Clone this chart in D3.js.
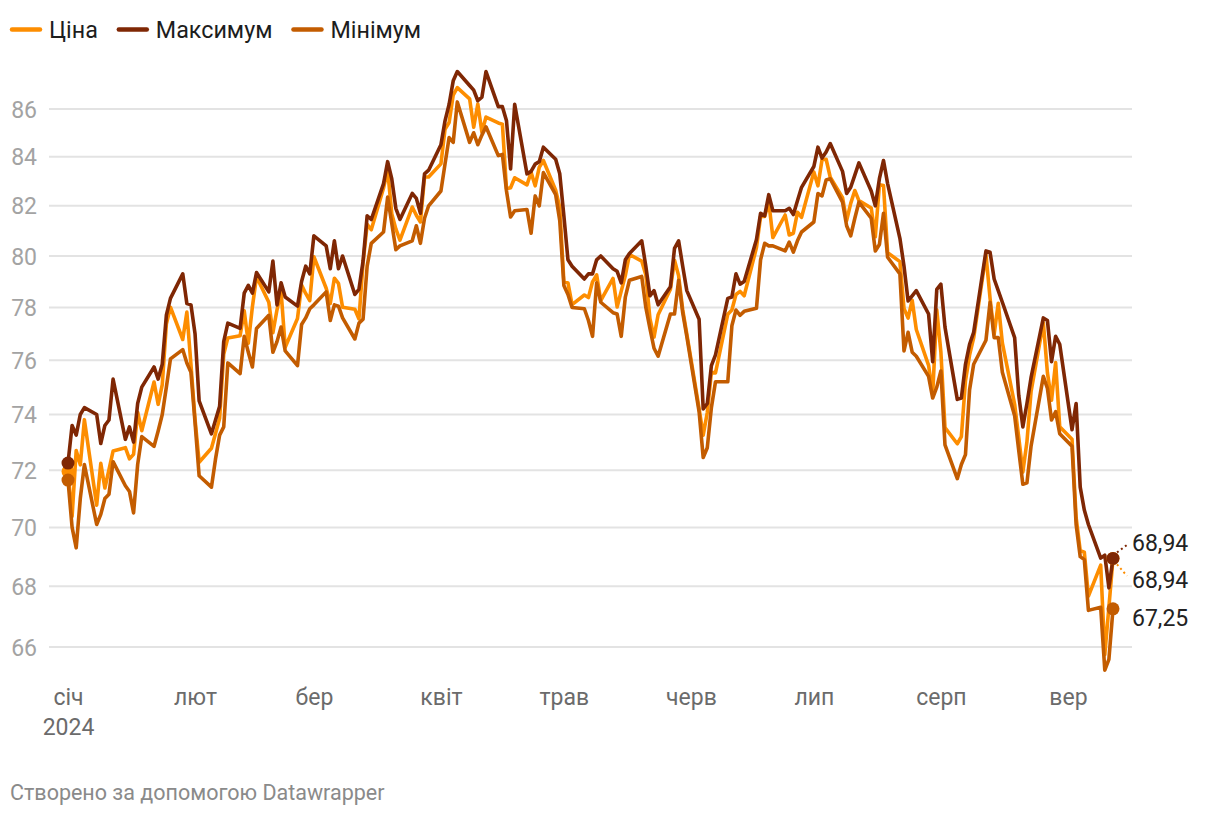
<!DOCTYPE html>
<html>
<head>
<meta charset="utf-8">
<script src="https://cdn.jsdelivr.net/npm/d3@7"></script>
<style>
  body { margin: 0; background: #fff; }
  svg { display: block; font-family: Roboto, "Noto Sans", sans-serif; }
</style>
</head>
<body>
<svg id="chart" width="1220" height="816"></svg>
<script>
// ---------- data ----------
const seriesNames = ["Ціна", "Максимум", "Мінімум"];
const monthLabels = ["січ", "лют", "бер", "квіт", "трав", "черв", "лип", "серп", "вер"];
const yearLabel = "2024";
const yTicks = [66, 68, 70, 72, 74, 76, 78, 80, 82, 84, 86];
const footerText = "Створено за допомогою Datawrapper";

const dates = [
  "01-01","01-02","01-03","01-04","01-05","01-08","01-09","01-10","01-11","01-12","01-15","01-16","01-17","01-18","01-19","01-22","01-23","01-24","01-25","01-26","01-29","01-30","01-31",
  "02-01","02-02","02-05","02-06","02-07","02-08","02-09","02-12","02-13","02-14","02-15","02-16","02-19","02-20","02-21","02-22","02-23","02-26","02-27","02-28","02-29",
  "03-01","03-04","03-05","03-06","03-07","03-08","03-11","03-12","03-13","03-14","03-15","03-18","03-19","03-20","03-21","03-22","03-25","03-26","03-27","03-28","03-29",
  "04-01","04-02","04-03","04-04","04-05","04-08","04-09","04-10","04-11","04-12","04-15","04-16","04-17","04-18","04-19","04-22","04-23","04-24","04-25","04-26","04-29","04-30",
  "05-01","05-02","05-03","05-06","05-07","05-08","05-09","05-10","05-13","05-14","05-15","05-16","05-17","05-20","05-21","05-22","05-23","05-24","05-27","05-28","05-29","05-30","05-31",
  "06-03","06-04","06-05","06-06","06-07","06-10","06-11","06-12","06-13","06-14","06-17","06-18","06-19","06-20","06-21","06-24","06-25","06-26","06-27","06-28",
  "07-01","07-02","07-03","07-04","07-05","07-08","07-09","07-10","07-11","07-12","07-15","07-16","07-17","07-18","07-19","07-22","07-23","07-24","07-25","07-26","07-29","07-30","07-31",
  "08-01","08-02","08-05","08-06","08-07","08-08","08-09","08-12","08-13","08-14","08-15","08-16","08-19","08-20","08-21","08-22","08-23","08-26","08-27","08-28","08-29","08-30",
  "09-02","09-03","09-04","09-05","09-06","09-09","09-10","09-11","09-12"
];

const price = [
  71.95,70.38,72.70,72.19,73.81,70.77,72.24,71.37,72.02,72.68,72.8,72.40,72.56,74.08,73.41,75.19,74.37,75.09,77.36,78.01,76.78,77.82,75.85,
  73.82,72.28,72.78,73.31,73.86,76.22,76.84,76.92,77.87,76.64,78.03,79.19,78.2,77.04,77.91,78.61,76.49,77.58,78.87,78.54,78.26,
  79.97,78.74,78.15,79.13,78.93,78.01,77.93,77.56,79.72,81.26,81.04,82.72,83.47,81.68,81.07,80.63,81.95,81.62,81.35,83.17,83.17,
  83.71,85.15,85.43,86.59,86.91,86.43,85.23,86.21,85.02,85.66,85.41,85.36,82.69,82.73,83.14,82.85,83.36,82.81,83.57,83.85,82.63,81.93,
  79.00,78.95,78.11,78.48,78.38,78.99,79.26,78.26,79.12,78.02,78.63,79.23,80.06,79.80,79.26,77.57,76.87,77.72,78.7,79.83,79.23,77.91,76.99,
  74.22,73.25,74.07,75.55,75.53,77.74,77.90,78.50,78.62,78.45,80.33,81.57,81.57,82.17,80.73,81.63,80.83,80.90,81.74,81.54,
  83.38,82.81,83.88,83.9,83.16,82.33,81.41,82.10,82.62,82.21,81.91,80.76,82.85,82.82,80.13,79.78,77.96,77.59,78.28,77.16,75.81,74.73,77.91,
  76.31,73.52,72.94,73.20,75.23,76.19,76.84,80.06,78.35,76.98,78.16,76.65,74.37,73.17,71.93,73.01,74.83,77.42,75.53,74.52,75.91,73.55,
  73.1,70.34,69.20,69.15,67.67,68.71,65.75,67.31,68.94
];

const high = [
  72.25,73.6,73.25,74.0,74.25,74.0,72.95,73.6,73.8,75.3,73.1,73.55,73.0,74.4,75.0,75.75,75.3,75.85,77.7,78.35,79.3,78.15,78.1,
  77.0,74.5,73.3,73.8,74.3,76.7,77.4,77.2,78.55,78.85,78.55,79.35,78.6,79.8,78.1,78.95,78.4,78.05,79.0,79.6,79.3,
  80.8,80.4,79.5,80.6,79.5,80.0,78.5,78.7,79.8,81.6,81.45,82.9,83.8,83.1,81.9,81.45,82.5,82.3,81.7,83.3,83.45,
  84.5,85.5,86.2,87.2,87.6,87.0,86.8,86.35,86.5,87.6,86.1,86.1,85.5,83.5,86.2,83.3,83.4,83.7,83.8,84.4,83.9,83.3,
  81.6,79.85,79.6,79.1,79.3,79.3,79.85,80.0,79.5,79.4,78.95,79.85,80.1,80.6,79.6,78.45,78.65,78.1,78.8,80.3,80.6,79.6,78.65,
  77.55,74.2,74.4,75.8,76.2,78.35,78.4,79.3,78.9,79.0,80.65,81.7,81.6,82.45,81.8,81.8,81.9,81.65,82.2,82.75,
  83.6,84.4,83.95,84.2,84.55,83.4,82.5,82.75,83.25,83.75,82.6,82.0,83.1,83.85,82.9,80.7,79.6,78.25,78.45,78.65,77.75,75.95,78.7,
  78.9,77.25,74.55,74.6,75.85,76.6,77.05,80.2,80.15,79.1,78.65,78.2,76.85,74.7,73.55,74.4,75.35,77.6,77.5,75.95,76.9,76.6,
  73.45,74.4,71.4,70.6,70.1,68.95,69.05,67.95,68.94
];

const low = [
  71.65,70.0,69.3,71.0,72.2,70.1,70.45,71.0,71.15,72.3,71.45,71.25,70.5,72.2,73.2,72.85,73.4,74.0,75.0,76.05,76.4,75.9,75.55,
  73.7,71.8,71.4,72.4,73.25,73.55,75.9,75.5,76.9,76.3,75.75,77.2,77.7,76.3,76.7,77.25,76.35,75.8,77.35,77.6,77.95,
  78.1,78.6,77.5,78.1,78.05,77.6,76.8,77.4,77.55,79.6,80.5,80.95,82.35,81.3,80.25,80.4,80.6,81.2,80.5,81.5,82.0,
  82.6,83.7,84.8,84.6,86.3,84.6,85.0,84.5,84.9,85.25,84.05,84.1,82.6,81.55,81.8,81.85,80.9,82.4,82.0,83.35,82.45,81.4,
  78.85,78.5,78.0,77.95,77.5,76.9,78.95,78.2,77.8,77.75,76.9,78.4,79.05,79.2,78.0,77.2,76.45,76.15,77.75,77.75,79.05,77.8,76.9,
  74.1,72.45,72.8,74.25,75.2,75.2,77.3,77.9,77.7,77.85,77.97,79.85,80.5,80.4,80.4,80.2,80.55,80.15,80.6,80.95,
  81.35,82.5,82.4,83.05,83.1,82.15,81.2,80.8,81.5,82.15,81.5,80.2,80.45,81.7,79.95,79.3,76.35,77.05,76.3,76.15,75.4,74.6,75.0,
  75.6,72.9,71.7,72.2,72.55,74.9,75.85,76.75,78.2,76.85,76.85,75.55,73.95,72.7,71.5,71.55,72.85,75.4,74.95,73.8,74.1,73.3,
  72.85,70.1,69.0,68.9,67.2,67.3,65.25,65.6,67.25
];

// ---------- styles ----------
const colors = ["#fd8d00", "#7f2704", "#c35c00"];

const parse = d3.timeParse("%Y-%m-%d");
const dateObjs = dates.map(s => parse("2024-" + s));
const values = [price, high, low];
const series = values.map((arr, i) => ({
  name: seriesNames[i],
  color: colors[i],
  points: arr.map((v, j) => ({ date: dateObjs[j], v }))
}));

const svg = d3.select("#chart");

const x = d3.scaleTime()
  .domain([parse("2024-01-01"), dateObjs[dateObjs.length - 1]])
  .range([68, 1113]);
const y = d3.scaleLog()
  .domain([66, 86])
  .range([647, 109]);

// gridlines + y labels
const yAxis = d3.axisLeft(y)
  .tickValues(yTicks)
  .tickSize(0)
  .tickFormat(d3.format("d"));
const gy = svg.append("g").attr("transform", "translate(37,0)").call(yAxis);
gy.select(".domain").remove();
gy.selectAll("text")
  .attr("x", 0)
  .attr("dy", "0.35em")
  .attr("fill", "#a3a3a3")
  .style("font-size", "23px")
  .style("font-family", "Roboto");

svg.append("g").selectAll("line")
  .data(yTicks)
  .join("line")
  .attr("x1", 49).attr("x2", 1132)
  .attr("y1", d => y(d)).attr("y2", d => y(d))
  .attr("stroke", "#e3e3e3")
  .attr("stroke-width", 2);

// x axis labels
const monthTicks = d3.range(9).map(m => new Date(2024, m, 1));
const xAxis = d3.axisBottom(x)
  .tickValues(monthTicks)
  .tickSize(0)
  .tickFormat((d, i) => monthLabels[i]);
const gx = svg.append("g").attr("transform", "translate(0,682)").call(xAxis);
gx.select(".domain").remove();
gx.selectAll("text")
  .attr("y", 0).attr("dy", "23px")
  .attr("fill", "#6b6b6b")
  .style("font-size", "23px")
  .style("font-family", "Roboto");
gx.selectAll(".tick").filter((d, i) => i === 0)
  .append("text")
  .attr("y", 53)
  .attr("fill", "#6b6b6b")
  .attr("text-anchor", "middle")
  .style("font-size", "23px")
  .style("font-family", "Roboto")
  .text(yearLabel);

// lines
const line = d3.line().x(d => x(d.date)).y(d => y(d.v));
const gLines = svg.append("g");
series.forEach(s => {
  gLines.append("path")
    .datum(s.points)
    .attr("fill", "none")
    .attr("stroke", s.color)
    .attr("stroke-width", 3.6)
    .attr("stroke-linejoin", "round")
    .attr("stroke-linecap", "round")
    .attr("d", line);
});

// start & end dots
series.forEach(s => {
  const first = s.points[0], last = s.points[s.points.length - 1];
  [first, last].forEach(p => {
    gLines.append("circle")
      .attr("cx", x(p.date)).attr("cy", y(p.v))
      .attr("r", 6.5)
      .attr("fill", s.color);
  });
});

// end labels with simple collision avoidance
const fmt = v => d3.format(".2f")(v).replace(".", ",");
const lastPts = series.map(s => ({ s, p: s.points[s.points.length - 1] }));
const order = [1, 0, 2]; // top to bottom
let prevY = null;
const labelYs = {};
order.forEach((idx, k) => {
  const dotY = y(lastPts[idx].p.v);
  let ly = k === 0 ? dotY - 15.5 : Math.max(dotY + 9, prevY + 37);
  labelYs[idx] = ly;
  prevY = ly;
});
order.forEach(idx => {
  const { s, p } = lastPts[idx];
  const cx = x(p.date), cy = y(p.v);
  const ly = labelYs[idx];
  if (Math.abs(ly - cy) > 12) {
    const dir = ly < cy ? -1 : 1;
    svg.append("line")
      .attr("x1", cx + 4).attr("y1", cy + dir * 6)
      .attr("x2", 1127).attr("y2", ly + (dir < 0 ? 2 : -4))
      .attr("stroke", s.color)
      .attr("stroke-width", 2)
      .attr("stroke-dasharray", "2,3");
  }
  svg.append("text")
    .attr("x", 1132).attr("y", ly)
    .attr("dy", "0.35em")
    .attr("fill", "#222")
    .style("font-size", "23px")
    .text(fmt(p.v));
});

// legend
const leg = svg.append("g");
let lx = 12;
series.forEach(s => {
  leg.append("line")
    .attr("x1", lx).attr("x2", lx + 28)
    .attr("y1", 29.5).attr("y2", 29.5)
    .attr("stroke", s.color)
    .attr("stroke-width", 4.5)
    .attr("stroke-linecap", "round");
  const t = leg.append("text")
    .attr("x", lx + 37).attr("y", 38)
    .attr("fill", "#1d1d1d")
    .style("font-size", "23.3px")
    .text(s.name);
  lx = lx + 37 + t.node().getComputedTextLength() + 21;
});

// footer
svg.append("text")
  .attr("x", 10).attr("y", 800)
  .attr("fill", "#8a8a8a")
  .style("font-size", "21.5px")
  .text(footerText);
</script>
</body>
</html>
